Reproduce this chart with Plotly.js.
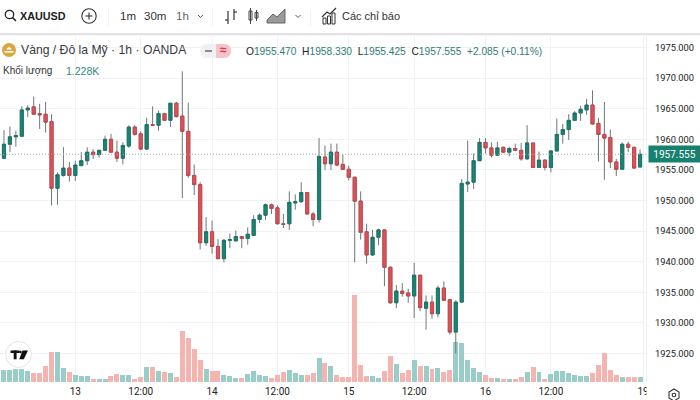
<!DOCTYPE html>
<html><head><meta charset="utf-8">
<script src="https://cdn.plot.ly/plotly-3.0.1.min.js"></script>
<style>html,body{margin:0;padding:0;background:#fff}#chart{width:700px;height:400px}</style>
</head><body><div id="chart"></div>
<script>
const openPrices = [
1956.9,1959.2,1960.4,1960.5,1964.8,1965.3,1964.2,1964.1,1962.9,1952.0,
1954.1,1955.3,1954.1,1955.7,1956.5,1957.9,1957.5,1958.2,1960.0,1957.9,
1956.9,1958.9,1962.0,1960.9,1958.4,1962.4,1962.3,1964.2,1963.1,1965.9,
1963.8,1961.3,1954.1,1952.6,1943.1,1944.9,1942.5,1940.5,1943.5,1943.4,
1944.1,1943.8,1944.3,1946.9,1947.6,1949.3,1948.8,1946.2,1946.2,1949.6,
1949.8,1951.3,1947.8,1946.9,1957.1,1956.0,1957.9,1955.9,1955.1,1953.8,
1949.9,1944.9,1941.1,1944.0,1945.2,1939.1,1933.3,1935.2,1934.9,1934.4,
1937.8,1932.4,1933.4,1931.5,1935.7,1933.8,1928.5,1933.4,1952.7,1953.0,
1956.5,1959.5,1958.6,1957.4,1958.7,1957.9,1958.5,1958.2,1956.8,1959.4,
1955.4,1956.6,1955.4,1958.1,1960.8,1961.6,1963.1,1964.3,1964.8,1965.6,
1962.6,1960.8,1960.3,1956.3,1955.1,1959.2,1958.7,1955.47];
const highPrices = [
1961.5,1962.1,1961.4,1965.4,1965.6,1967.0,1965.8,1966.1,1964.1,1954.6,
1958.7,1956.3,1956.5,1957.9,1958.7,1958.4,1958.3,1960.6,1960.9,1959.8,
1959.5,1962.3,1962.3,1961.3,1963.5,1965.4,1964.7,1964.3,1965.9,1966.1,
1971.1,1966.0,1955.9,1953.0,1947.3,1946.7,1943.7,1943.7,1944.6,1945.1,
1944.1,1945.6,1947.6,1947.9,1949.5,1949.5,1949.2,1947.8,1951.5,1951.0,
1953.0,1951.4,1948.1,1960.2,1959.0,1959.3,1959.3,1957.5,1955.7,1953.9,
1951.5,1946.2,1945.2,1945.4,1945.3,1939.2,1936.2,1936.5,1935.6,1939.8,
1937.8,1934.5,1934.5,1936.1,1936.8,1933.9,1933.7,1953.5,1959.8,1957.7,
1960.2,1960.2,1959.5,1959.6,1958.8,1958.8,1959.3,1959.4,1962.3,1959.4,
1958.0,1956.7,1958.2,1963.4,1962.5,1964.1,1964.6,1965.5,1966.6,1968.0,
1963.5,1966.1,1961.6,1956.8,1959.5,1959.6,1958.7,1958.33];
const lowPrices = [
1956.8,1957.9,1958.8,1960.5,1963.6,1964.0,1961.7,1961.1,1949.2,1949.3,
1953.9,1953.1,1953.2,1955.7,1955.8,1956.8,1957.0,1958.2,1957.8,1956.3,
1955.9,1958.6,1960.6,1958.3,1958.3,1962.2,1961.4,1963.0,1962.0,1963.6,
1950.4,1953.7,1950.9,1942.0,1942.6,1941.3,1940.4,1939.9,1942.2,1943.4,
1942.2,1942.8,1944.3,1946.3,1946.8,1947.8,1946.1,1945.5,1945.2,1948.5,
1949.7,1947.7,1945.8,1946.4,1955.0,1955.0,1955.6,1955.0,1953.3,1939.9,
1943.6,1939.7,1941.0,1942.7,1936.0,1933.1,1932.4,1934.3,1933.3,1930.8,
1931.9,1928.9,1930.7,1930.9,1933.6,1928.1,1925.0,1933.4,1951.4,1951.9,
1956.5,1957.7,1957.0,1957.4,1957.8,1957.2,1958.2,1956.5,1956.7,1955.3,
1955.3,1954.9,1954.6,1958.0,1959.3,1959.9,1963.1,1963.0,1964.0,1962.4,
1956.4,1953.4,1955.3,1954.0,1955.1,1957.9,1955.2,1955.425];
const closePrices = [
1959.2,1960.4,1960.6,1964.8,1965.1,1964.1,1964.0,1962.8,1952.0,1954.2,
1955.3,1954.1,1955.8,1956.5,1957.9,1957.5,1958.2,1960.0,1957.9,1956.9,
1959.0,1962.0,1960.8,1958.4,1962.4,1962.3,1964.2,1963.1,1965.9,1963.7,
1961.3,1954.1,1952.6,1943.1,1944.9,1942.5,1940.5,1943.5,1943.6,1944.1,
1943.8,1944.5,1946.9,1947.6,1949.3,1948.7,1946.2,1946.1,1949.7,1949.8,
1951.3,1947.8,1946.9,1957.2,1956.0,1957.9,1955.8,1955.1,1953.8,1949.9,
1944.8,1941.1,1944.0,1945.2,1939.1,1933.3,1935.2,1934.8,1934.4,1937.8,
1932.5,1933.4,1931.5,1935.7,1933.7,1928.5,1933.4,1952.8,1953.0,1956.5,
1959.5,1958.6,1957.4,1958.6,1957.9,1958.5,1958.2,1956.8,1959.4,1955.4,
1956.6,1955.4,1958.1,1960.8,1961.6,1963.1,1964.3,1964.9,1965.6,1962.5,
1960.8,1960.2,1956.3,1955.1,1959.2,1958.7,1955.3,1957.555];
const volumesK = [
3.17,3.17,3.52,3.52,2.90,2.29,2.29,4.22,7.83,7.83,
3.61,2.64,1.76,1.58,1.58,0.79,0.70,0.88,1.58,2.11,
1.85,1.85,0.88,1.23,3.87,3.87,2.90,2.73,2.46,1.32,
13.46,11.53,8.62,5.72,3.52,2.82,2.82,1.85,1.58,1.06,
1.06,2.11,2.90,1.94,1.58,0.97,1.76,2.55,3.17,2.46,
1.85,1.85,2.46,6.34,5.10,4.14,1.85,1.23,1.23,22.97,
4.49,1.58,1.58,1.14,2.90,6.86,4.84,2.38,3.17,5.90,
4.31,4.14,3.43,3.78,2.73,3.26,10.47,10.21,5.72,3.61,
2.73,1.85,0.97,0.97,0.70,0.79,0.88,1.23,2.64,4.05,
2.73,0.88,2.02,2.90,2.90,2.38,1.94,1.50,1.58,2.46,
4.40,7.66,3.17,1.85,1.23,1.23,1.32,1.228];
const timeTickPositions = [12,23,35,46,58,69,81,92,107.5];
const timeTickLabels = ['13','12:00','14','12:00','15','12:00','16','12:00','19'];
const priceTicks = [1925,1930,1935,1940,1945,1950,1955,1960,1965,1970,1975];
const lastPrice = 1957.555;

const barIndex = openPrices.map((_, i) => i);
const upColor = '#1b8374', upEdge = '#0f7265', downColor = '#df5157', downEdge = '#c83f46';
const wickColor = '#6f7778';
const volumeColors = openPrices.map((o, i) => closePrices[i] >= o ? '#98cdca' : '#f4b5b1');

const W = 646, H = 348, TOP = 36;
const px = x => x / W, py = y => (TOP + H - y) / H;
const P = (x, y) => px(x) + ',' + py(y);
const poly = pts => 'M' + pts.map(p => P(p[0], p[1])).join('L') + 'Z';
const open = pts => 'M' + pts.map(p => P(p[0], p[1])).join('L');
const pathShape = (path, line, fill, w) => ({type:'path', xref:'paper', yref:'paper', path, layer:'above',
  fillcolor: fill || 'rgba(0,0,0,0)', line:{color: line || 'rgba(0,0,0,0)', width: w === undefined ? 1 : w}});
const rect = (x0,y0,x1,y1,fill,line,w) => ({type:'rect', xref:'paper', yref:'paper', layer:'above',
  x0:px(x0), x1:px(x1), y0:py(y0), y1:py(y1), fillcolor:fill||'rgba(0,0,0,0)', line:{color:line||'rgba(0,0,0,0)', width:w||0}});
const circle = (cx,cy,r,fill,line,w) => ({type:'circle', xref:'paper', yref:'paper', layer:'above',
  x0:px(cx-r), x1:px(cx+r), y0:py(cy+r), y1:py(cy-r), fillcolor:fill||'rgba(0,0,0,0)', line:{color:line||'rgba(0,0,0,0)', width:w||0}});

const shapes = [
  {type:'line', xref:'paper', yref:'y2', x0:0, x1:1, y0:lastPrice, y1:lastPrice, layer:'above', line:{color:'#a4a9a9', width:1, dash:'1px,2px'}},
  rect(0,33,700,35.2,'#e2e2e4'),
  rect(646,35,646.8,384,'#eceef2'),
  rect(646.6,385,662,400,'#ffffff'),
  rect(108,9,108.8,26,'#ececee'), rect(212,9,212.8,26,'#ececee'), rect(310,9,310.8,26,'#ececee'),
  // search
  circle(9.5,14.5,4.2,null,'#222',1.3),
  pathShape(open([[12.6,17.6],[16,21]]),'#222',null,1.5),
  // add symbol
  circle(89,16,7.2,null,'#333',1.1),
  pathShape(open([[85.5,16],[92.5,16]]),'#333',null,1.1),
  pathShape(open([[89,12.5],[89,19.5]]),'#333',null,1.1),
  // chevrons
  pathShape(open([[198,15],[200.5,17.5],[203,15]]),'#555',null,1),
  pathShape(open([[295.5,15],[298,17.5],[300.5,15]]),'#555',null,1),
  // bar icon
  pathShape(open([[228,11],[228,24]]),'#333',null,1.2),
  pathShape(open([[225,20],[228,20]]),'#333',null,1.2),
  pathShape(open([[234,9],[234,20]]),'#333',null,1.2),
  pathShape(open([[234,12],[237,12]]),'#333',null,1.2),
  // candle icon
  rect(249,11,252,20,null,'#444',1), pathShape(open([[250.5,8],[250.5,24]]),'#444',null,1),
  rect(255,12.5,258,18,null,'#444',1), pathShape(open([[256.5,10],[256.5,21]]),'#444',null,1),
  // area icon
  pathShape(poly([[267,23],[267,20],[273,14],[277,17],[285,9],[285,23]]),'#666','#9a9a9c',1),
  // indicators icon
  pathShape(open([[322,17],[327,12],[330,14],[336,8]]),'#333',null,1.2),
  rect(323,18,326,24,null,'#333',1), rect(327.5,16,330.5,24,null,'#333',1), rect(332,13,335,24,null,'#333',1),
  // gold symbol
  circle(9,50,7,'#dca63e'),
  pathShape(poly([[6,49.5],[9,46.5],[12,49.5]]),null,'#fff',0),
  rect(4.5,51,13.5,52.6,'#fff'),
  // status pill
  {type:'path', xref:'paper', yref:'paper', layer:'above', fillcolor:'#f1f1f4', line:{width:0},
   path:'M'+P(207,44)+'L'+P(216,44)+'L'+P(216,58)+'L'+P(207,58)+'Q'+P(200,58)+' '+P(200,51)+'Q'+P(200,44)+' '+P(207,44)+'Z'},
  {type:'path', xref:'paper', yref:'paper', layer:'above', fillcolor:'#f6c3cb', line:{width:0},
   path:'M'+P(216,44)+'L'+P(224,44)+'Q'+P(231,44)+' '+P(231,51)+'Q'+P(231,58)+' '+P(224,58)+'L'+P(216,58)+'Z'},
  rect(205,50,212,52,'#8a8a8e'),
  // TV badge
  circle(18.5,354.5,13,'#ffffff','#e4e4e6',1),
  rect(10.5,350.5,19.5,353,'#111'), rect(13.7,350.5,16.6,359.3,'#111'),
  circle(20.4,352,1.3,'#111'),
  pathShape(poly([[22.5,350.5],[28,350.5],[23.8,359.3],[19.2,359.3]]),null,'#111',0),
  // settings
  pathShape(poly([[674,389],[679,392],[679,398],[674,401],[669,398],[669,392]]),'#333',null,1.1),
  circle(674,395,1.8,null,'#333',1.1)
];

const note = (x, y, text, size, color, extra) => Object.assign({xref:'paper', yref:'paper', x:px(x), y:py(y),
  xanchor:'left', yanchor:'middle', showarrow:false, text,
  font:{family:'"Liberation Sans", Arial, sans-serif', size, color}, borderpad:0, align:'left'}, extra||{});
const v = s => '<span style="color:#2f7d75">' + s + '</span>';

const annotations = [
  note(19,16,'<b>XAUUSD</b>',10.8,'#222'),
  note(119,16,'1m',11.5,'#333'),
  note(143,16,'30m',11.5,'#333'),
  note(175,16,'1h',11.5,'#666'),
  note(341,16,'Các chỉ báo',11,'#333'),
  note(20,50,'Vàng / Đô la Mỹ · 1h · OANDA',12.2,'#3a3a3e'),
  note(245,51,'O'+v('1955.470')+'  H'+v('1958.330')+'  L'+v('1955.425')+'  C'+v('1957.555')+'  '+v('+2.085 (+0.11%)'),10.2,'#222'),
  note(2,71,'Khối lượng',10,'#333'),
  note(65,71,'1.228K',10.5,'#2f8a80'),
  note(223.5,50.5,'<b>≈</b>',12,'#d3394a',{xanchor:'center'}),
  {xref:'paper', yref:'y2', x:px(648), y:lastPrice, xanchor:'left', yanchor:'middle', showarrow:false,
   text:'1957.555', font:{family:'Roboto, "Liberation Sans", sans-serif', size:10, color:'#fff'},
   bgcolor:'#17806f', width:51, height:16, borderpad:0, align:'center'}
];

const traces = [
  {type:'bar', name:'Khối lượng', x:barIndex, y:volumesK, marker:{color:volumeColors, line:{width:0}}, width:0.84, yaxis:'y', hoverinfo:'skip'},
  {type:'candlestick', name:'Wicks', x:barIndex, open:openPrices, high:highPrices, low:lowPrices, close:closePrices, yaxis:'y2',
   increasing:{line:{color:wickColor,width:1}, fillcolor:upColor},
   decreasing:{line:{color:wickColor,width:1}, fillcolor:downColor}, whiskerwidth:0, hoverinfo:'skip'},
  {type:'candlestick', name:'XAUUSD', x:barIndex, open:openPrices, close:closePrices,
   high:openPrices.map((o,i)=>Math.max(o,closePrices[i])), low:openPrices.map((o,i)=>Math.min(o,closePrices[i])), yaxis:'y2',
   increasing:{line:{color:upEdge,width:0.7}, fillcolor:upColor},
   decreasing:{line:{color:downEdge,width:0.7}, fillcolor:downColor}, whiskerwidth:0, hoverinfo:'skip'}
];

const layout = {
  width:700, height:400, showlegend:false, paper_bgcolor:'#fff', plot_bgcolor:'#fff',
  margin:{l:0, r:54, t:36, b:16, pad:0}, boxmode:'overlay', boxgap:0.24, bargap:0,
  font:{family:'Roboto, "Liberation Sans", sans-serif', color:'#222', size:10},
  xaxis:{type:'linear', range:[-0.67,108.0], tickmode:'array', tickvals:timeTickPositions, ticktext:timeTickLabels,
    showgrid:true, gridcolor:'#f0f1f5', gridwidth:1, zeroline:false, showline:false, ticks:'', ticklen:0,
    tickfont:{family:'Roboto, "Liberation Sans", sans-serif', size:10, color:'#222'}, rangeslider:{visible:false}, fixedrange:true, tickangle:0},
  yaxis:{range:[-0.53,91.3], showgrid:false, zeroline:false, showticklabels:false, ticks:'', showline:false, fixedrange:true},
  yaxis2:{overlaying:'y', side:'right', range:[1920.02,1976.88], tickmode:'array', tickvals:priceTicks, tickformat:'.3f',
    showgrid:true, gridcolor:'#f1f2f5', gridwidth:1, zeroline:false, showline:false, ticks:'', ticklen:0, ticklabelstandoff:8,
    tickfont:{family:'Roboto, "Liberation Sans", sans-serif', size:9.3, color:'#222'}, fixedrange:true},
  shapes, annotations
};
Plotly.newPlot('chart', traces, layout, {displayModeBar:false, staticPlot:true});
</script>
</body></html>
